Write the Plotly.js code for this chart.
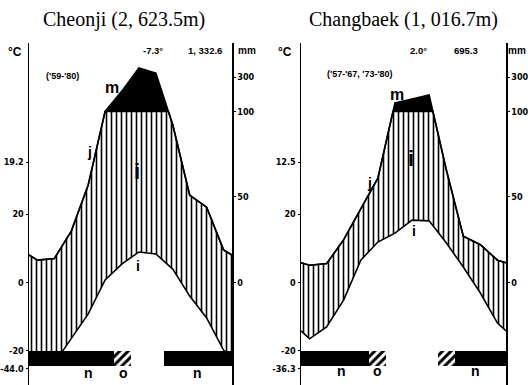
<!DOCTYPE html>
<html><head><meta charset="utf-8">
<script src="https://cdn.plot.ly/plotly-3.0.1.min.js"></script>
<style>html,body{margin:0;padding:0;background:#fff}#chart{width:528px;height:385px}</style>
</head><body><div id="chart"></div>
<script>
// ---- data ----
const monthNames = ['Jan','Feb','Mar','Apr','May','Jun','Jul','Aug','Sep','Oct','Nov','Dec'];
const cheonjiTemp   = [-24.2,-23.6,-16.5,-9.2,0.7,5.4,8.9,8.3,3.9,-4.0,-10.4,-19.8];
const cheonjiPrecip = [13,14,30,57,100,220,354,324,92,51,44,19];
const cheonjiFrost  = ['b','b','b','b','b','h','','','b','b','b','b'];
const changbaekTemp   = [-16.5,-13.0,-5.1,6.5,11.8,14.4,18.2,18.0,11.6,4.5,-3.1,-11.9];
const changbaekPrecip = [10,11,25,43,61,149,172,196,66,27,22,13];
const changbaekFrost  = ['b','b','b','b','h','','','','h','b','b','b'];
const cheonjiLeftTicks   = ['19.2','20','0','-20','-44.0'];
const changbaekLeftTicks = ['12.5','20','0','-20','-36.3'];
const leftTickVals = [35.2, 20, 0, -20, -25.3];
const mmTickVals = [0, 50, 100, 300];
const mmTickText = ['0','50','100','300'];

// ---- helpers ----
const W = 528, H = 385;
const eq = p => p <= 100 ? p / 2 : 50 + (p - 100) / 20;   // Walter-Lieth scale
const xMonths = [0].concat(monthNames.map((_, i) => i + 0.5)).concat([12]);
function withEdges(a) { const e = (a[0] + a[a.length - 1]) / 2; return [e].concat(a).concat([e]); }
function splitAt(xs, ys, level) {
  const X = [xs[0]], Y = [ys[0]];
  for (let i = 1; i < xs.length; i++) {
    if ((ys[i - 1] - level) * (ys[i] - level) < 0) {
      const t = (level - ys[i - 1]) / (ys[i] - ys[i - 1]);
      X.push(xs[i - 1] + t * (xs[i] - xs[i - 1])); Y.push(level);
    }
    X.push(xs[i]); Y.push(ys[i]);
  }
  return {X, Y};
}
const LINE = {color: '#000', width: 1.6};
function panelTraces(temp, precip, xa, ya) {
  const tY = withEdges(temp);
  const pr = splitAt(xMonths, withEdges(precip.map(eq)), 50);
  return [
    {type: 'scatter', mode: 'lines', x: xMonths, y: tY, xaxis: xa, yaxis: ya, line: LINE, hoverinfo: 'skip'},
    {type: 'scatter', mode: 'lines', x: pr.X, y: pr.Y.map(v => Math.min(v, 50)), xaxis: xa, yaxis: ya,
     line: LINE, fill: 'tonexty', fillcolor: '#fff',
     fillpattern: {shape: '|', size: 5, solidity: 0.32, fgcolor: '#000', bgcolor: '#fff'}, hoverinfo: 'skip'},
    {type: 'scatter', mode: 'lines', x: pr.X, y: pr.Y, xaxis: xa, yaxis: ya,
     line: LINE, fill: 'tonexty', fillcolor: '#000', hoverinfo: 'skip'}
  ];
}
function frostBar(frost, xa, ya) {
  const bx = [], pat = [];
  frost.forEach((f, i) => { if (f) { bx.push(i + 0.5); pat.push(f === 'h' ? '/' : ''); } });
  return {type: 'bar', x: bx, y: bx.map(() => -4.3), base: -20, width: 1, xaxis: xa, yaxis: ya,
    marker: {color: '#000', line: {width: 0},
      pattern: {shape: pat, fgcolor: '#000', bgcolor: '#fff', size: 6, solidity: 0.5}},
    hoverinfo: 'skip'};
}

const data = []
  .concat(panelTraces(cheonjiTemp, cheonjiPrecip, 'x', 'y'))
  .concat(panelTraces(changbaekTemp, changbaekPrecip, 'x2', 'y3'))
  .concat([frostBar(cheonjiFrost, 'x', 'y2'), frostBar(changbaekFrost, 'x2', 'y4')]);

const TF = {family: 'DejaVu Sans Condensed, Liberation Sans Narrow, Liberation Sans, sans-serif', size: 9, color: 'black', weight: 'bold'};
const yTop = (H - 43) / H;
function yAx(extra) {
  return Object.assign({range: [-30, 70], domain: [0, yTop], showline: true, linecolor: '#000', linewidth: 1.5,
    showgrid: false, zeroline: false, ticks: 'outside', ticklen: 2, tickwidth: 1, tickcolor: '#000',
    tickfont: TF, fixedrange: true, tickmode: 'array'}, extra);
}
function xAx(d0, d1) {
  return {domain: [d0 / W, d1 / W], range: [0, 12], visible: false, fixedrange: true};
}

const ann = [];
function txt(t, px, py, size, opts) {
  ann.push(Object.assign({text: t, x: px / W, y: 1 - py / H, xref: 'paper', yref: 'paper',
    xanchor: 'center', yanchor: 'middle', showarrow: false,
    font: {family: 'Liberation Sans, Arial, sans-serif', size: size, color: 'black', weight: 'bold'}}, opts || {}));
}
const serif = {family: 'Liberation Serif, DejaVu Serif, serif', size: 20, color: 'black'};
txt('Cheonji (2, 623.5m)', 124, 19, 20, {font: serif});
txt('Changbaek (1, 016.7m)', 403, 19, 20, {font: serif});
// Cheonji
txt('°C', 15, 52, 12);
txt('-7.3°', 153, 51, 9.5);
txt('1, 332.6', 205, 51, 9.5);
txt('mm', 247, 51, 10);
txt("('59-'80)", 62, 76, 9);
txt('m', 112, 88, 16);
txt('j', 89, 152, 14);
txt('i', 137, 172, 22);
txt('i', 138, 266, 14);
txt('n', 88, 373, 14); txt('o', 123, 373, 14); txt('n', 197, 373, 14);
// Changbaek
txt('°C', 285, 52, 12);
txt('2.0°', 418, 51, 9.5);
txt('695.3', 466, 51, 9.5);
txt('mm', 517, 51, 10);
txt("('57-'67, '73-'80)", 360, 74, 9);
txt('m', 397, 95, 16);
txt('j', 369, 183, 14);
txt('i', 411, 158, 22);
txt('i', 414, 231, 14);
txt('n', 341, 371, 14); txt('o', 377, 371, 14); txt('n', 475, 371, 14);

const mmVals = mmTickVals.map(eq);
const layout = {
  width: W, height: H, margin: {l: 0, r: 0, t: 0, b: 0},
  paper_bgcolor: '#fff', plot_bgcolor: 'rgba(0,0,0,0)', showlegend: false,
  xaxis: xAx(29, 232), xaxis2: xAx(301, 506),
  yaxis: yAx({anchor: 'x', side: 'left', tickvals: leftTickVals, ticktext: cheonjiLeftTicks}),
  yaxis2: yAx({anchor: 'x', overlaying: 'y', side: 'right', tickvals: mmVals, ticktext: mmTickText}),
  yaxis3: yAx({anchor: 'x2', side: 'left', tickvals: leftTickVals, ticktext: changbaekLeftTicks}),
  yaxis4: yAx({anchor: 'x2', overlaying: 'y3', side: 'right', tickvals: mmVals, ticktext: mmTickText}),
  annotations: ann, bargap: 0
};
Plotly.newPlot('chart', data, layout, {staticPlot: true, displayModeBar: false});
</script></body></html>
